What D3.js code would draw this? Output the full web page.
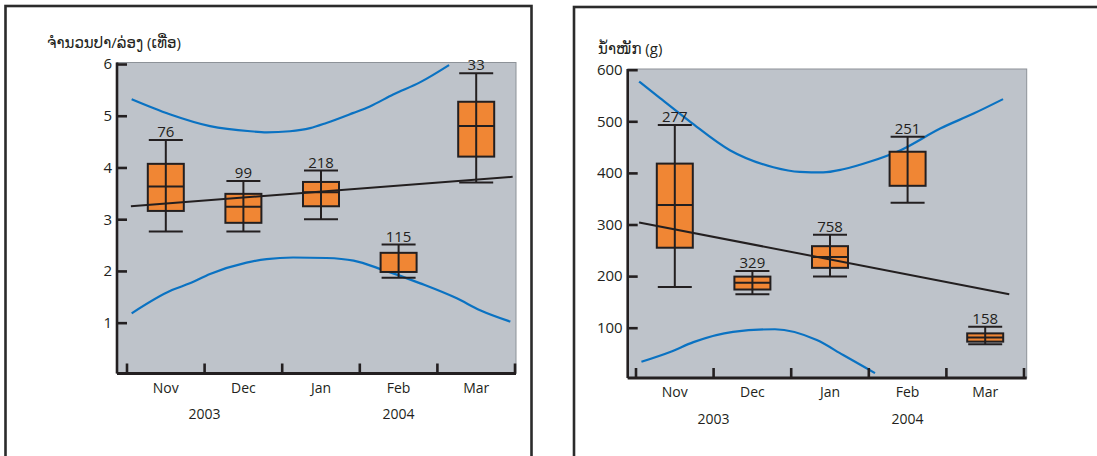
<!DOCTYPE html>
<html>
<head>
<meta charset="utf-8">
<script src="https://cdn.jsdelivr.net/npm/d3@7"></script>
<style>
  html, body { margin: 0; padding: 0; background: #fff; }
  svg { display: block; }
  text { font-family: "Open Sans", "DejaVu Sans", sans-serif; fill: #231f20; }
</style>
</head>
<body>
<svg id="chart" width="1097" height="456"></svg>
<script>
// Sampling months and season years
const months = ["Nov", "Dec", "Jan", "Feb", "Mar"];
const yearLabels = ["2003", "2004"];
const yearAt = [0.5, 3];          // month index under which each year label sits

// Panel 1: fish caught per trap (count per haul)
const countTitle = "ຈຳນວນປາ/ລ່ອງ (ເທື່ອ)";
const countTicks = [1, 2, 3, 4, 5, 6];
const countN = [76, 99, 218, 115, 33];
const countLow = [2.76, 2.76, 3.0, 1.87, 3.71];
const countQ1 = [3.16, 2.93, 3.25, 1.98, 4.21];
const countMedian = [3.63, 3.24, 3.52, null, 4.80];
const countQ3 = [4.07, 3.49, 3.72, 2.35, 5.27];
const countHigh = [4.53, 3.74, 3.94, 2.51, 5.82];
const countTrendX = [-0.45, 4.47];
const countTrendY = [3.25, 3.82];
const countUpperX = [-0.44, 0.05, 0.57, 1.09, 1.30, 1.60, 1.86, 2.07, 2.41, 2.63, 2.93, 3.28, 3.65];
const countUpperY = [5.32, 5.03, 4.80, 4.70, 4.68, 4.70, 4.76, 4.86, 5.05, 5.18, 5.41, 5.65, 5.98];
const countLowerX = [-0.44, 0.08, 0.31, 0.57, 1.04, 1.30, 1.64, 2.07, 2.42, 2.80, 3.28, 3.75, 4.05, 4.44];
const countLowerY = [1.18, 1.63, 1.76, 1.94, 2.16, 2.23, 2.26, 2.25, 2.20, 2.02, 1.76, 1.47, 1.24, 1.02];

// Panel 2: fish weight (g)
const weightTitle = "ນ້ຳໜັກ (g)";
const weightTicks = [100, 200, 300, 400, 500, 600];
const weightN = [277, 329, 758, 251, 158];
const weightLow = [179, 165, 199, 342, 68];
const weightQ1 = [255, 174, 216, 375, 73];
const weightMedian = [338, 187, 237, null, 81];
const weightQ3 = [418, 199, 258, 441, 89];
const weightHigh = [493, 210, 280, 470, 102];
const weightTrendX = [-0.46, 4.31];
const weightTrendY = [304, 165];
const weightUpperX = [-0.46, -0.19, 0.20, 0.71, 1.27, 1.61, 1.91, 2.17, 2.52, 2.91, 3.42, 3.85, 4.23];
const weightUpperY = [577, 545, 499, 444, 411, 402, 401, 407, 422, 444, 486, 515, 543];
const weightLowerX = [-0.43, -0.06, 0.24, 0.75, 1.29, 1.83, 2.17, 2.58];
const weightLowerY = [34, 53, 72, 92, 97, 76, 47, 12];

const COLORS = { plot: "#bec3ca", plotEdge: "#8d9298", box: "#f08634", ink: "#231f20", band: "#0a72c2", frame: "#2b2b2b" };

const svg = d3.select("#chart");

function drawPanel(p) {
  const g = svg.append("g");

  // outer frame (runs off the bottom of the page)
  g.append("rect")
    .attr("x", p.frame[0]).attr("y", p.frame[1])
    .attr("width", p.frame[2]).attr("height", 520)
    .attr("fill", "none").attr("stroke", COLORS.frame).attr("stroke-width", 2.6);

  const y = d3.scaleLinear().domain(p.yDomain).range(p.yRange);
  const x = d3.scaleBand().domain(d3.range(months.length)).range(p.xRange).padding(0);
  const bw = x.bandwidth();
  const xi = i => p.xRange[0] + (i + 0.5) * bw;   // continuous month position

  const left = p.plot[0], right = p.plot[1], top = p.plot[2], bottom = p.plot[3];

  // plot background
  g.append("rect")
    .attr("x", left).attr("y", top)
    .attr("width", right - left).attr("height", bottom - top)
    .attr("fill", COLORS.plot).attr("stroke", COLORS.plotEdge).attr("stroke-width", 1);

  // confidence bands
  const line = d3.line().x(d => xi(d[0])).y(d => y(d[1])).curve(d3.curveMonotoneX);
  [[p.upperX, p.upperY], [p.lowerX, p.lowerY]].forEach(([xs, ys]) => {
    g.append("path")
      .datum(xs.map((v, i) => [v, ys[i]]))
      .attr("d", line)
      .attr("fill", "none").attr("stroke", COLORS.band).attr("stroke-width", 2.2);
  });

  // box plots
  const boxW = 36, capW = 34;
  const boxes = g.selectAll("g.box").data(months.map((m, i) => i)).join("g").attr("class", "box");
  boxes.append("line")
    .attr("x1", i => x(i) + bw / 2).attr("x2", i => x(i) + bw / 2)
    .attr("y1", i => y(p.low[i])).attr("y2", i => y(p.high[i]))
    .attr("stroke", COLORS.ink).attr("stroke-width", 2);
  boxes.append("rect")
    .attr("x", i => x(i) + bw / 2 - boxW / 2).attr("width", boxW)
    .attr("y", i => y(p.q3[i])).attr("height", i => y(p.q1[i]) - y(p.q3[i]))
    .attr("fill", COLORS.box).attr("stroke", COLORS.ink).attr("stroke-width", 2);
  boxes.append("line")
    .attr("x1", i => x(i) + bw / 2).attr("x2", i => x(i) + bw / 2)
    .attr("y1", i => y(p.q3[i])).attr("y2", i => y(p.q1[i]))
    .attr("stroke", COLORS.ink).attr("stroke-width", 2);
  boxes.filter(i => p.median[i] != null).append("line")
    .attr("x1", i => x(i) + bw / 2 - boxW / 2).attr("x2", i => x(i) + bw / 2 + boxW / 2)
    .attr("y1", i => y(p.median[i])).attr("y2", i => y(p.median[i]))
    .attr("stroke", COLORS.ink).attr("stroke-width", 2);
  ["low", "high"].forEach(k => {
    boxes.append("line")
      .attr("x1", i => x(i) + bw / 2 - capW / 2).attr("x2", i => x(i) + bw / 2 + capW / 2)
      .attr("y1", i => y(p[k][i])).attr("y2", i => y(p[k][i]))
      .attr("stroke", COLORS.ink).attr("stroke-width", 2);
  });
  boxes.append("text")
    .attr("x", i => x(i) + bw / 2).attr("y", i => y(p.high[i]) - 3)
    .attr("text-anchor", "middle").attr("font-size", 15)
    .text(i => p.n[i]);

  // regression line
  g.append("line")
    .attr("x1", xi(p.trendX[0])).attr("y1", y(p.trendY[0]))
    .attr("x2", xi(p.trendX[1])).attr("y2", y(p.trendY[1]))
    .attr("stroke", COLORS.ink).attr("stroke-width", 2);

  // y axis: thick spine with short inward ticks
  const yAxis = g.append("g").attr("transform", `translate(${left},0)`)
    .call(d3.axisLeft(y).tickValues(p.yTicks).tickFormat(d3.format("d")).tickSize(0).tickPadding(5));
  yAxis.select(".domain").remove();
  yAxis.selectAll("text").attr("font-size", 15).attr("fill", COLORS.ink)
    .style("font-family", '"Open Sans", sans-serif');
  yAxis.selectAll(".tick").append("line")
    .attr("x1", 0).attr("x2", 10).attr("stroke", COLORS.ink).attr("stroke-width", 2.6);
  g.append("line")
    .attr("x1", left).attr("x2", left).attr("y1", top).attr("y2", bottom)
    .attr("stroke", COLORS.ink).attr("stroke-width", 2.6);

  // x axis: month boundaries ticked upward, month names centred in each band
  const bounds = d3.range(months.length + 1).map(i => p.xRange[0] + i * bw);
  g.append("line")
    .attr("x1", left).attr("x2", right).attr("y1", bottom).attr("y2", bottom)
    .attr("stroke", COLORS.ink).attr("stroke-width", 3);
  g.selectAll("line.btick").data(bounds).join("line").attr("class", "btick")
    .attr("x1", d => d).attr("x2", d => d)
    .attr("y1", bottom).attr("y2", bottom - 10)
    .attr("stroke", COLORS.ink).attr("stroke-width", 2.6);
  g.selectAll("text.month").data(months).join("text").attr("class", "month")
    .attr("x", (d, i) => x(i) + bw / 2).attr("y", bottom + p.monthDy)
    .attr("text-anchor", "middle").attr("font-size", 14).text(d => d);
  g.selectAll("text.year").data(yearLabels).join("text").attr("class", "year")
    .attr("x", (d, i) => xi(yearAt[i])).attr("y", bottom + p.yearDy)
    .attr("text-anchor", "middle").attr("font-size", 14).text(d => d);

  // axis title
  g.append("text")
    .attr("x", p.titlePos[0]).attr("y", p.titlePos[1])
    .attr("font-size", 15).text(p.title);
}

drawPanel({
  frame: [5.5, 6, 526], plot: [117, 516, 62.5, 373.5],
  xRange: [127, 515], yDomain: [0, 6], yRange: [374.4, 64],
  yTicks: countTicks, title: countTitle, titlePos: [47, 48],
  n: countN, low: countLow, q1: countQ1, median: countMedian, q3: countQ3, high: countHigh,
  trendX: countTrendX, trendY: countTrendY,
  upperX: countUpperX, upperY: countUpperY, lowerX: countLowerX, lowerY: countLowerY,
  monthDy: 19, yearDy: 45
});

drawPanel({
  frame: [574, 7, 540], plot: [627.7, 1026.7, 69, 378],
  xRange: [636, 1024], yDomain: [0, 600], yRange: [379.3, 69.7],
  yTicks: weightTicks, title: weightTitle, titlePos: [598, 54],
  n: weightN, low: weightLow, q1: weightQ1, median: weightMedian, q3: weightQ3, high: weightHigh,
  trendX: weightTrendX, trendY: weightTrendY,
  upperX: weightUpperX, upperY: weightUpperY, lowerX: weightLowerX, lowerY: weightLowerY,
  monthDy: 19, yearDy: 46
});
</script>
</body>
</html>
